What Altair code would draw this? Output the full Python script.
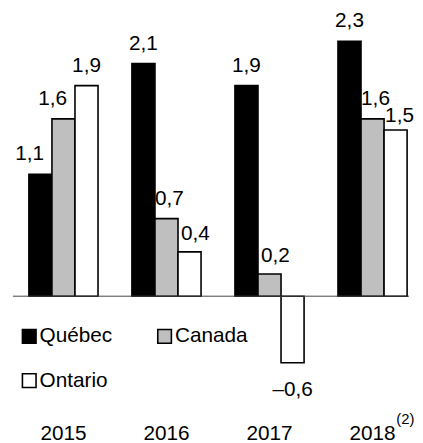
import altair as alt
import pandas as pd

years = ["2015", "2016", "2017", "2018"]
series = ["Québec", "Canada", "Ontario"]
quebec = [1.1, 2.1, 1.9, 2.3]
canada = [1.6, 0.7, 0.2, 1.6]
ontario = [1.9, 0.4, -0.6, 1.5]
colors = ["#000000", "#bfbfbf", "#ffffff"]
footnote_year = "2018"
footnote_text = "(2)"

rows = []
for i, y in enumerate(years):
    for s, vals in zip(series, [quebec, canada, ontario]):
        v = vals[i]
        lab = f"{abs(v):.1f}".replace(".", ",")
        if v < 0:
            lab = "\u2013" + lab
        rows.append({"year": y, "series": s, "value": v, "label": lab})
df = pd.DataFrame(rows)

FONT = "Liberation Sans"
FS = 21
W, H = 401, 387

xscale = alt.Scale(paddingInner=0.329, paddingOuter=0.087, align=0.89)
yscale = alt.Scale(domain=[-0.9, 2.55], nice=False, zero=False)

base = alt.Chart(df).encode(
    x=alt.X("year:N", sort=years, scale=xscale, title=None,
            axis=alt.Axis(domain=False, ticks=False, labelAngle=0,
                          labelFont=FONT, labelFontSize=FS, labelColor="#000",
                          labelPadding=27, labelBaseline="top")),
    xOffset=alt.XOffset("series:N", sort=series,
                        scale=alt.Scale(domain=series, paddingInner=0, paddingOuter=0)),
)

bars = base.mark_bar(stroke="#000", strokeWidth=1.6).encode(
    y=alt.Y("value:Q", scale=yscale, axis=None),
    fill=alt.Fill("series:N", sort=series,
                  scale=alt.Scale(domain=series, range=colors),
                  legend=alt.Legend(
                      title=None, orient="none", legendX=6, legendY=316,
                      direction="horizontal",
                      columns=2, columnPadding=42, rowPadding=23,
                      symbolType="square", symbolSize=190,
                      symbolStrokeColor="#000", symbolStrokeWidth=1.6,
                      labelFont=FONT, labelFontSize=FS, labelColor="#000",
                      labelOffset=0, labelLimit=0)),
)


def sel(pairs):
    cond = None
    for y, s in pairs:
        c = (alt.datum.year == y) & (alt.datum.series == s)
        cond = c if cond is None else (cond | c)
    return cond


left_nudge = sel([("2015", "Québec"), ("2015", "Canada")])
right_nudge = sel([("2016", "Ontario"), ("2017", "Canada")])
small_right = sel([("2016", "Canada"), ("2018", "Canada")])
low_right = sel([("2018", "Ontario")])
special = left_nudge | right_nudge | small_right | low_right


def labels(filt, dx=0, dy=-14):
    return base.mark_text(font=FONT, fontSize=FS, color="#000",
                          baseline="alphabetic", dx=dx, dy=dy).encode(
        y=alt.Y("value:Q", scale=yscale), text="label:N"
    ).transform_filter(filt)


pos_labels = labels((alt.datum.value >= 0) & ~special)
l1 = labels(left_nudge, dx=-11)
l2 = labels(right_nudge, dx=6, dy=-12)
l3 = labels(small_right, dx=3)
l4 = labels(low_right, dx=4, dy=-8)
neg_labels = labels(alt.datum.value < 0, dy=34)

zero = alt.Chart(pd.DataFrame({"z": [0]})).mark_rule(color="#444", strokeWidth=1).encode(
    y=alt.Y("z:Q", scale=yscale)
)

note = alt.Chart(pd.DataFrame({"year": [footnote_year], "t": [footnote_text]})).mark_text(
    font=FONT, fontSize=15, color="#000", align="left", baseline="top", dx=24
).encode(
    x=alt.X("year:N", sort=years, scale=xscale),
    y=alt.value(H + 16),
    text="t:N",
)

chart = alt.layer(bars, zero, pos_labels, l1, l2, l3, l4, neg_labels, note).properties(
    width=W, height=H,
    background="white",
    padding={"left": 4, "top": 0, "right": 0, "bottom": 0},
).configure_view(stroke=None)

chart.save("out.html", embed_options={"renderer": "svg", "actions": False})
